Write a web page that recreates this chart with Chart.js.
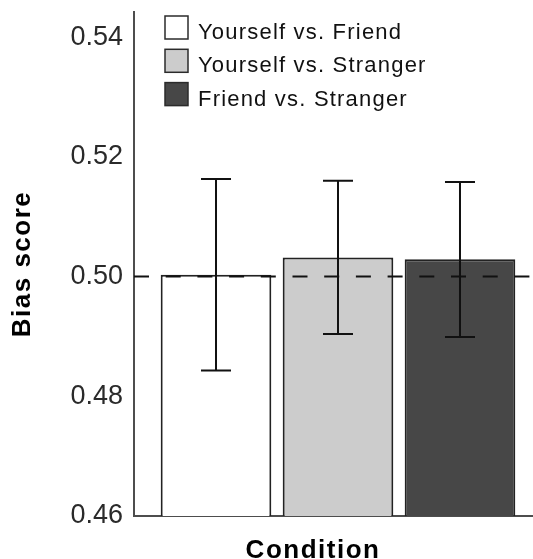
<!DOCTYPE html>
<html>
<head>
<meta charset="utf-8">
<script src="https://cdn.jsdelivr.net/npm/chart.js@4.4.1/dist/chart.umd.min.js"></script>
<style>
  html, body { margin: 0; padding: 0; overflow: hidden; background: #ffffff; }
  #wrap { width: 542px; height: 559px; position: relative; }
</style>
</head>
<body>
<div id="wrap"><canvas id="chart"></canvas></div>
<script>
// Mean bias score per condition, with the lower and upper ends of each error bar
const conditions = ['Yourself vs. Friend', 'Yourself vs. Stranger', 'Friend vs. Stranger'];
const meanBias   = [0.5003, 0.5032, 0.5029];
const errLower   = [0.4843, 0.4904, 0.4899];
const errUpper   = [0.5163, 0.5160, 0.5158];
const barColors  = ['#ffffff', '#cccccc', '#474747'];
const yTickValues = [0.46, 0.48, 0.50, 0.52, 0.54];
const chanceLevel = 0.50;
const xAxisTitle = 'Condition';
const yAxisTitle = 'Bias score';

const FONT = "'Liberation Sans', Arial, Helvetica, sans-serif";
const INK = '#111111';

// Dashed chance line and error bars, drawn on top of the bars
const overlayPlugin = {
  id: 'overlay',
  afterDatasetsDraw(chart) {
    const { ctx, chartArea, scales } = chart;
    const y = scales.y;
    ctx.save();
    // chance line
    const yc = y.getPixelForValue(chanceLevel);
    ctx.strokeStyle = INK;
    ctx.lineWidth = 2;
    ctx.setLineDash([15, 16.7]);
    ctx.beginPath();
    ctx.moveTo(chartArea.left, yc);
    ctx.lineTo(chartArea.right, yc);
    ctx.stroke();
    ctx.setLineDash([]);
    // error bars
    const capHalf = 15;
    chart.data.datasets.forEach((ds, i) => {
      const bar = chart.getDatasetMeta(i).data[0];
      if (!bar) return;
      const x = bar.x;
      const yHi = y.getPixelForValue(errUpper[i]);
      const yLo = y.getPixelForValue(errLower[i]);
      ctx.beginPath();
      ctx.moveTo(x, yHi); ctx.lineTo(x, yLo);
      ctx.moveTo(x - capHalf, yHi); ctx.lineTo(x + capHalf, yHi);
      ctx.moveTo(x - capHalf, yLo); ctx.lineTo(x + capHalf, yLo);
      ctx.stroke();
    });
    ctx.restore();
  }
};

// Legend boxes and axis titles
const textPlugin = {
  id: 'texts',
  afterDraw(chart) {
    const { ctx, chartArea } = chart;
    ctx.save();
    // legend
    const box = 23, rowGap = 33.3;
    const lx = chartArea.left + 31, ly = chartArea.top + 4;
    ctx.font = '22px ' + FONT;
    ctx.letterSpacing = '1.2px';
    ctx.textAlign = 'left';
    ctx.textBaseline = 'alphabetic';
    chart.data.datasets.forEach((ds, i) => {
      const top = ly + i * rowGap;
      ctx.fillStyle = ds.backgroundColor;
      ctx.fillRect(lx, top, box, box);
      ctx.strokeStyle = '#2b2b2b';
      ctx.lineWidth = 1.5;
      ctx.strokeRect(lx, top, box, box);
      ctx.fillStyle = INK;
      ctx.fillText(ds.label, lx + box + 10, top + box);
    });
    // axis titles
    ctx.fillStyle = '#000000';
    ctx.font = 'bold 26px ' + FONT;
    ctx.letterSpacing = '1.5px';
    ctx.textAlign = 'center';
    ctx.fillText(xAxisTitle, (chartArea.left + chartArea.right) / 2 - 25, chart.height - 1);
    ctx.translate(23, (chartArea.top + chartArea.bottom) / 2);
    ctx.rotate(-Math.PI / 2);
    ctx.textBaseline = 'middle';
    ctx.fillText(yAxisTitle, 0, 0);
    ctx.restore();
  }
};

new Chart(document.getElementById('chart'), {
  type: 'bar',
  data: {
    labels: [''],
    datasets: conditions.map((name, i) => ({
      label: name,
      data: [meanBias[i]],
      backgroundColor: barColors[i],
      borderColor: '#222222',
      borderWidth: 2
    }))
  },
  options: {
    responsive: true,
    maintainAspectRatio: false,
    animation: false,
    categoryPercentage: 0.897,
    barPercentage: 0.907,
    layout: { padding: { top: 12, right: 0, bottom: 43, left: 0 } },
    plugins: {
      legend: { display: false },
      tooltip: { enabled: false }
    },
    scales: {
      x: {
        ticks: { display: false },
        grid: { display: false, drawTicks: false },
        border: { display: true, color: '#4d4d4d', width: 2 }
      },
      y: {
        min: 0.46,
        max: 0.5442,
        afterBuildTicks(scale) {
          scale.ticks = yTickValues.map(v => ({ value: v }));
        },
        afterFit(scale) {
          scale.width = 134;
          scale.paddingTop = 0;
          scale.paddingBottom = 0;
        },
        ticks: {
          padding: 11,
          color: '#2a2a2a',
          font: { family: FONT, size: 27 },
          callback: v => v.toFixed(2)
        },
        grid: { display: false, drawTicks: false },
        border: { display: true, color: '#4d4d4d', width: 2 }
      }
    }
  },
  plugins: [overlayPlugin, textPlugin]
});
</script>
</body>
</html>
